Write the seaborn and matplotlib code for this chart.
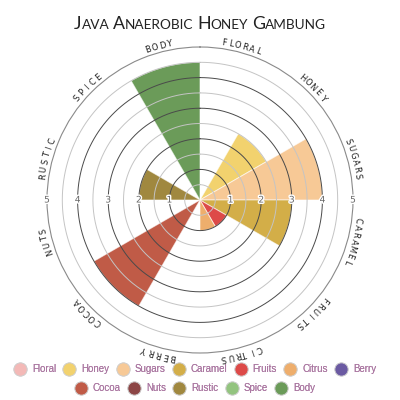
import numpy as np
import matplotlib.pyplot as plt
from matplotlib.lines import Line2D
import matplotlib.patheffects as pe
import seaborn as sns

# Flavour profile
categories = ['Floral', 'Honey', 'Sugars', 'Caramel', 'Fruits', 'Citrus',
              'Berry', 'Cocoa', 'Nuts', 'Rustic', 'Spice', 'Body']
scores = [0, 2.5, 4, 3, 1, 1, 0, 4, 0, 2, 0, 4.5]
colors = ['#f3b9b7', '#f2d26e', '#f7c996', '#d3ae48', '#dd4a48', '#eeae6c',
          '#6b5aa2', '#c05b47', '#8c4545', '#a0883f', '#93c47f', '#6b9b59']
ring_ticks = [1, 2, 3, 4, 5]
title = 'Java Anaerobic Honey Gambung'

sns.set_style('white')
palette = sns.color_palette(colors)

fig = plt.figure(figsize=(4, 4), dpi=100)
ax = fig.add_axes([0.1175, 0.1175, 0.765, 0.765], projection='polar')
ax.set_theta_zero_location('N')
ax.set_theta_direction(-1)
ax.set_ylim(0, 5)
ax.grid(False)
ax.set_xticks([])
ax.set_yticks([])
ax.spines['polar'].set_color('#8a8a8a')
ax.spines['polar'].set_linewidth(0.8)

n = len(categories)
step = 2 * np.pi / n
theta = np.arange(n) * step + step / 2
ax.bar(theta, scores, width=step, color=palette, edgecolor=(1, 1, 1, 0.6),
       linewidth=0.7, zorder=1)

# rings every half unit, whole units darker
tt = np.linspace(0, 2 * np.pi, 361)
for r in np.arange(0.5, 5, 0.5):
    whole = float(r).is_integer()
    ax.plot(tt, np.full_like(tt, r), color='#4a4a4a' if whole else '#c4c4c4',
            lw=0.7, zorder=2)

# ring values left and right
halo = [pe.withStroke(linewidth=2, foreground='white')]
for k in ring_ticks:
    for ang in (np.pi / 2, 3 * np.pi / 2):
        ax.text(ang, k, str(k), ha='center', va='center', fontsize=6.5,
                color='#666666', zorder=4, path_effects=halo)

# category names written along the rim, one letter at a time
char_step = np.deg2rad(2.6)
for i, name in enumerate(categories):
    word = name.upper()
    start = theta[i] - char_step * (len(word) - 1) / 2
    for j, ch in enumerate(word):
        a = start + j * char_step
        ax.text(a, 5.2, ch, ha='center', va='center', fontsize=6,
                color='#222222', rotation=-np.degrees(a),
                rotation_mode='anchor', clip_on=False)

# title in small caps
fig.canvas.draw()
renderer = fig.canvas.get_renderer()
pieces = []
for w, word in enumerate(title.split(' ')):
    if w > 0:
        pieces.append((' ', 9.8))
    pieces.append((word[0].upper(), 12.8))
    pieces.append((word[1:].upper(), 9.8))
texts = []
for s, size in pieces:
    t = fig.text(0, 0.928, s, fontsize=size, family='Lato', color='#222222',
                 va='baseline', ha='left')
    texts.append(t)
widths = [t.get_window_extent(renderer).width for t in texts]
total = sum(widths)
x = 200 - total / 2
for t, wd in zip(texts, widths):
    t.set_x(x / 400)
    x += wd

# legend in two centred rows
text_color = '#ab78a2'
def handles(idx):
    return [Line2D([], [], ls='none', marker='o', markersize=9.5,
                   markerfacecolor=palette[i], markeredgecolor='#d0d0d0',
                   markeredgewidth=0.6) for i in idx]

rows = [(list(range(0, 7)), 0.077), (list(range(7, 12)), 0.029)]
for idx, y in rows:
    leg = fig.legend(handles(idx), [categories[i] for i in idx],
                     loc='center', bbox_to_anchor=(0.487, y), ncol=len(idx),
                     frameon=False, handlelength=1.35,
                     prop={'family': 'Liberation Sans', 'size': 7},
                     handletextpad=0.55, columnspacing=0.7, borderpad=0,
                     labelcolor=text_color)
    fig.add_artist(leg)

fig.savefig('out.png', dpi=100)
